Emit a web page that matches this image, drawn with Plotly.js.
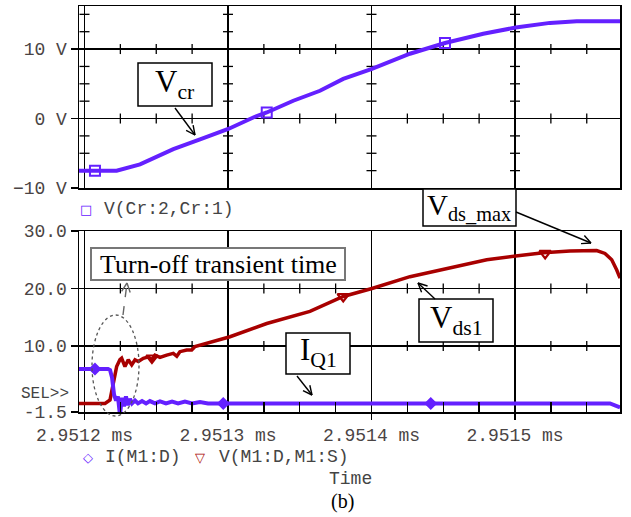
<!DOCTYPE html>
<html><head><meta charset="utf-8">
<script src="https://cdn.plot.ly/plotly-3.0.1.min.js"></script>
<style>html,body{margin:0;padding:0;background:#fff}#chart{width:631px;height:517px}</style>
</head><body><div id="chart"></div>
<script>
// ---------- data (time in ms) ----------
const tCr = [2.951196, 2.9512224, 2.9512387, 2.9512619, 2.9512805, 2.9513002, 2.9513176, 2.951327, 2.9513455, 2.9513641, 2.9513803, 2.9514003, 2.9514268, 2.9514512, 2.9514779, 2.9515005, 2.9515244, 2.951543, 2.9515732];
const vCr = [-7.5, -7.5, -6.6, -4.4, -3.0, -1.5, 0.15, 0.87, 2.56, 4.0, 5.7, 7.16, 9.33, 10.87, 12.2, 13.1, 13.77, 14.0, 14.0];
const tCrMarks = [2.9512073, 2.951327, 2.9514512];
const vCrMarks = [-7.5, 0.87, 10.87];

const tId = [2.951196, 2.9512164, 2.9512178, 2.9512192, 2.9512206, 2.951222, 2.9512233, 2.9512247, 2.9512261, 2.9512275, 2.9512289, 2.9512303, 2.9512317, 2.9512331, 2.9512352, 2.9512373, 2.9512401, 2.9512429, 2.9512456, 2.9512491, 2.9512526, 2.9512568, 2.951261, 2.9512652, 2.95127, 2.9512749, 2.9512805, 2.9512861, 2.9515662, 2.9515697, 2.9515732];
const iD  = [6.0, 6.0, 5.8, 4.5, 1.5, 0.5, 1.2, -2.0, 1.0, -0.5, 1.2, -0.3, 0.8, 0.0, 0.5, 0.0, 0.4, 0.0, 0.4, 0.0, 0.35, 0.0, 0.3, 0.0, 0.3, 0.0, 0.25, 0.0, 0.0, -0.4, -0.7];
const tIdMarks = [2.9512073, 2.9512967, 2.9514413];
const iDMarks = [6.0, 0.0, 0.0];

const tVds = [2.951196, 2.9512143, 2.9512178, 2.9512201, 2.9512224, 2.9512247, 2.9512259, 2.9512282, 2.9512305, 2.9512329, 2.9512352, 2.9512375, 2.951241, 2.9512445, 2.9512468, 2.9512491, 2.9512526, 2.9512573, 2.9512619, 2.9512643, 2.9512665, 2.9512712, 2.9512747, 2.951277, 2.9512852, 2.9512944, 2.9513014, 2.951327, 2.9513571, 2.9513803, 2.9514003, 2.9514268, 2.951457, 2.9514803, 2.9515005, 2.9515197, 2.9515383, 2.9515569, 2.9515627, 2.9515674, 2.9515709, 2.9515732];
const vDs = [0.0, 0.0, 0.6, 3.5, 6.4, 7.6, 7.85, 6.4, 7.6, 6.7, 7.6, 7.3, 7.85, 8.1, 7.6, 8.4, 8.0, 8.4, 8.7, 8.2, 9.0, 9.3, 9.3, 9.9, 10.5, 11.2, 11.6, 13.9, 16.0, 18.6, 20.0, 22.05, 23.7, 25.0, 25.65, 26.2, 26.5, 26.6, 26.1, 25.0, 23.2, 21.8];
const tVdsMarks = [2.951247, 2.9513803, 2.951521];
const vDsMarks = [7.9, 18.6, 26.1];

const xTickVals = [2.9512, 2.9513, 2.9514, 2.9515];
const xTickText = ['2.9512 ms', '2.9513 ms', '2.9514 ms', '2.9515 ms'];
const yTopVals = [-10, 0, 10];
const yTopText = ['\u221210 V', '0 V', '10 V'];
const yBotVals = [-1.5, 10, 20, 30];
const yBotText = ['-1.5', '10.0', '20.0', '30.0'];

// ---------- styling ----------
const W = 631, H = 517;
const X0 = 2.95119617, X1 = 2.95157317;
const PURPLE = '#6420ff', RED = '#a80000';
const px = v => v / W, py = v => 1 - v / H;
const mono = 'Liberation Mono, Courier New, monospace';
const serif = 'Liberation Serif, Times New Roman, serif';
const axisFont = {family: mono, size: 18, color: '#4a4444'};

const traces = [
  {x: tCr, y: vCr, xaxis: 'x', yaxis: 'y', mode: 'lines', line: {color: PURPLE, width: 4}},
  {x: tCrMarks, y: vCrMarks, xaxis: 'x', yaxis: 'y', mode: 'markers',
   marker: {symbol: 'square-open', size: 10, color: PURPLE, line: {width: 2, color: PURPLE}}},
  {x: tVds, y: vDs, xaxis: 'x2', yaxis: 'y2', mode: 'lines', line: {color: RED, width: 3.5}},
  {x: tVdsMarks, y: vDsMarks, xaxis: 'x2', yaxis: 'y2', mode: 'markers',
   marker: {symbol: 'triangle-down-open', size: 10, color: RED, line: {width: 2.2, color: RED}}},
  {x: tId, y: iD, xaxis: 'x2', yaxis: 'y2', mode: 'lines', line: {color: PURPLE, width: 4}},
  {x: tIdMarks, y: iDMarks, xaxis: 'x2', yaxis: 'y2', mode: 'markers',
   marker: {symbol: 'diamond', size: 10, color: PURPLE}}
];

// quarter-division positions
const step = (xTickVals[1] - xTickVals[0]) / 4;
const quarterX = [];
for (let k = -3; k < 20; k++) {
  if (k % 4 === 0) continue;
  const v = xTickVals[0] + k * step;
  if (v > X0 && v < X1) quarterX.push(+v.toFixed(7));
}
const quarterYTop = [];
for (let v = -10; v <= 16; v += 2.5) { if (v % 10 !== 0) quarterYTop.push(v); }

const shapes = [];
const tick = {color: '#000', width: 1.3};
[0, 10].forEach(yv => quarterX.forEach(xv => shapes.push({type: 'line', xref: 'x', yref: 'y', layer: 'between',
  ysizemode: 'pixel', yanchor: yv, y0: -5, y1: 5, x0: xv, x1: xv, line: tick})));
xTickVals.forEach(xv => quarterYTop.forEach(yv => shapes.push({type: 'line', xref: 'x', yref: 'y', layer: 'between',
  xsizemode: 'pixel', xanchor: xv, x0: -5, x1: 5, y0: yv, y1: yv, line: tick})));
[10, 20].forEach(yv => quarterX.forEach(xv => shapes.push({type: 'line', xref: 'x2', yref: 'y2', layer: 'between',
  ysizemode: 'pixel', yanchor: yv, y0: -5, y1: 5, x0: xv, x1: xv, line: tick})));

function box(x0, y0, x1, y1, color, w) {
  shapes.push({type: 'rect', xref: 'paper', yref: 'paper', layer: 'above',
    x0: px(x0), x1: px(x1), y0: py(y1), y1: py(y0), fillcolor: '#fff', line: {color: color, width: w}});
}
function seg(x0, y0, x1, y1, color, w, dash) {
  shapes.push({type: 'line', xref: 'paper', yref: 'paper', layer: 'above',
    x0: px(x0), y0: py(y0), x1: px(x1), y1: py(y1), line: {color: color, width: w, dash: dash || 'solid'}});
}
// arrow = shaft + open V head (pixel geometry)
function arrow(tx, ty, hx, hy, color, dash) {
  const c = color || '#000';
  seg(tx, ty, hx, hy, c, 1.4, dash);
  const a = Math.atan2(ty - hy, tx - hx), L = 10, s = 0.45;
  seg(hx, hy, hx + L * Math.cos(a + s), hy + L * Math.sin(a + s), c, 1.4);
  seg(hx, hy, hx + L * Math.cos(a - s), hy + L * Math.sin(a - s), c, 1.4);
}
box(138, 63, 212, 106, '#000', 1.5);
box(91, 248, 345, 280, '#777', 2);
box(286, 333, 350, 374, '#000', 1.5);
box(419, 299, 493, 342, '#000', 1.5);
box(423, 189, 516, 226, '#000', 1.5);
shapes.push({type: 'circle', xref: 'paper', yref: 'paper', layer: 'above',
  x0: px(92), x1: px(139), y0: py(416), y1: py(315), line: {color: '#555', width: 1.3, dash: 'dot'}});
arrow(175, 108, 195, 135);
arrow(516, 212, 591, 243);
arrow(435, 299, 418, 283);
arrow(297, 376, 312, 395);
arrow(123, 315, 127, 283, '#666', 'dash');

const annotations = [];
function txt(x, y, text, font, xanchor) {
  annotations.push({xref: 'paper', yref: 'paper', x: px(x), y: py(y), text: text, showarrow: false,
    xanchor: xanchor || 'center', yanchor: 'middle', font: font});
}
const big = {family: serif, size: 31, color: '#000'};
txt(175, 84, 'V<sub>cr</sub>', big);
txt(218, 264, 'Turn-off transient time', {family: serif, size: 26, color: '#000'});
txt(318, 352, 'I<sub>Q1</sub>', big);
txt(456, 320, 'V<sub>ds1</sub>', big);
txt(469, 207, 'V<sub>ds_max</sub>', {family: serif, size: 29, color: '#000'});

const lgFont = {family: mono, size: 18, color: '#444'};
txt(86, 209, '\u25A1', {family: 'DejaVu Sans', size: 13, color: PURPLE});
txt(102, 209, 'V(Cr:2,Cr:1)', lgFont, 'left');
txt(88, 457, '\u25C7', {family: 'DejaVu Sans', size: 13, color: PURPLE});
txt(103, 457, 'I(M1:D)', lgFont, 'left');
txt(200, 457, '\u25BD', {family: 'DejaVu Sans', size: 13, color: RED});
txt(217, 457, 'V(M1:D,M1:S)', lgFont, 'left');
txt(350, 479, 'Time', lgFont);
txt(342, 501, '(b)', {family: serif, size: 20, color: '#000'});
txt(45, 394, 'SEL&gt;&gt;', {family: mono, size: 16, color: '#444'});

const axBase = {showline: true, linecolor: '#000', linewidth: 1.5, mirror: true, zeroline: false,
  showgrid: true, gridcolor: '#000', gridwidth: 1.3, tickcolor: '#000', tickwidth: 1.3, tickfont: axisFont};

const layout = {
  width: W, height: H, margin: {l: 0, r: 0, t: 0, b: 0}, paper_bgcolor: '#fff', plot_bgcolor: '#fff',
  showlegend: false,
  xaxis: Object.assign({}, axBase, {domain: [px(79), px(620)], range: [X0, X1], anchor: 'y',
    tickmode: 'array', tickvals: xTickVals, ticks: '', showticklabels: false}),
  yaxis: Object.assign({}, axBase, {domain: [py(188), py(6)], range: [-10, 16.2], anchor: 'x',
    tickmode: 'array', tickvals: yTopVals, ticktext: yTopText, ticks: 'outside', ticklen: 7}),
  xaxis2: Object.assign({}, axBase, {domain: [px(79), px(620)], range: [X0, X1], anchor: 'y2',
    tickmode: 'array', tickvals: xTickVals, ticktext: xTickText, ticks: 'outside', ticklen: 6,
    minor: {tickmode: 'array', tickvals: quarterX, ticks: 'inside', ticklen: 10, tickcolor: '#000', tickwidth: 1.3, showgrid: false}}),
  yaxis2: Object.assign({}, axBase, {domain: [py(412), py(231)], range: [-1.5, 30], anchor: 'x2',
    tickmode: 'array', tickvals: yBotVals, ticktext: yBotText, ticks: 'outside', ticklen: 7}),
  shapes: shapes,
  annotations: annotations
};

Plotly.newPlot('chart', traces, layout, {displayModeBar: false, staticPlot: true});
</script></body></html>
